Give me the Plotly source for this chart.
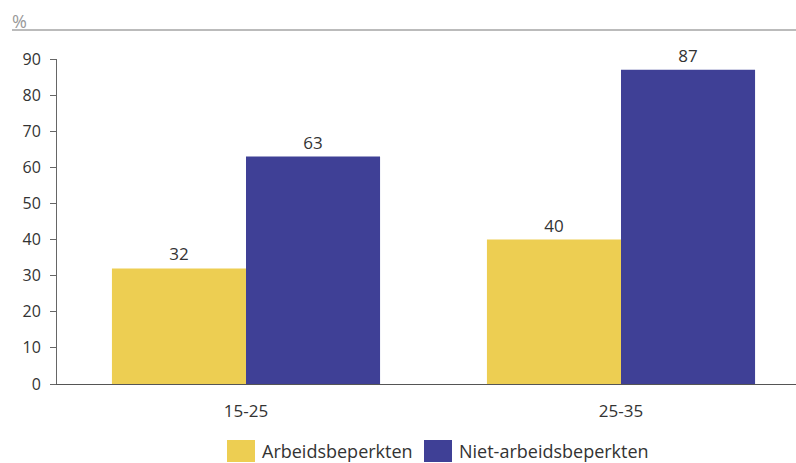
import plotly.graph_objects as go

categories = ["15-25", "25-35"]
arbeidsbeperkten = [32, 40]
niet_arbeidsbeperkten = [63, 87]
series_names = ["Arbeidsbeperkten", "Niet-arbeidsbeperkten"]
y_ticks = [0, 10, 20, 30, 40, 50, 60, 70, 80, 90]

yellow = "#EDCE52"
blue = "#3F4096"
font_family = "Open Sans"
text_color = "#333333"

W, H = 796, 463
left, right, top, bottom = 57, 796, 59, 384

fig = go.Figure()
for name, vals, col in [(series_names[0], arbeidsbeperkten, yellow),
                        (series_names[1], niet_arbeidsbeperkten, blue)]:
    fig.add_trace(go.Bar(
        x=categories, y=vals, name=name, marker=dict(color=col, line=dict(width=0)),
        text=[str(v) for v in vals], textposition="outside",
        textfont=dict(family=font_family, size=17, color=text_color),
        cliponaxis=False, showlegend=False,
    ))

fig.update_layout(
    width=W, height=H,
    margin=dict(l=left, r=W - right, t=top, b=H - bottom),
    paper_bgcolor="white", plot_bgcolor="white",
    barmode="group", bargap=0.285, bargroupgap=0,
    font=dict(family=font_family, color=text_color),
    xaxis=dict(
        range=[-189 / 375, 1 + 175 / 375], showline=True, linecolor="#555555", linewidth=1,
        ticks="", tickfont=dict(size=17, color=text_color), showgrid=False,
        zeroline=False, ticklabelstandoff=12,
    ),
    yaxis=dict(
        range=[0, 90], tickvals=y_ticks, showline=True, linecolor="#666666", linewidth=1,
        ticks="outside", ticklen=6, tickcolor="#666666", tickwidth=1,
        tickfont=dict(size=16, color=text_color), showgrid=False, zeroline=False,
        ticklabelstandoff=6,
    ),
)

# top rule and % label
fig.add_shape(type="line", xref="paper", yref="paper",
              x0=(12 - left) / (right - left), x1=1.0,
              y0=(bottom - 30) / (bottom - top), y1=(bottom - 30) / (bottom - top),
              line=dict(color="#BBBBBB", width=2))
fig.add_annotation(text="%", xref="paper", yref="paper",
                   x=(10 - left) / (right - left), y=(bottom - 21) / (bottom - top),
                   xanchor="left", yanchor="middle", showarrow=False,
                   font=dict(size=18, color="#999999", family=font_family))

# custom legend
def px_x(x):
    return (x - left) / (right - left)

def px_y(y):
    return (bottom - y) / (bottom - top)

legend_items = [(227, 255, 260, series_names[0], yellow),
                (424, 452, 457, series_names[1], blue)]
for x0, x1, tx, name, col in legend_items:
    fig.add_shape(type="rect", xref="paper", yref="paper",
                  x0=px_x(x0), x1=px_x(x1), y0=px_y(462), y1=px_y(440),
                  fillcolor=col, line=dict(width=0))
    fig.add_annotation(text=name, xref="paper", yref="paper",
                       x=px_x(tx), y=px_y(451), xanchor="left", yanchor="middle",
                       showarrow=False, font=dict(size=18, color=text_color, family=font_family))

fig.write_html("out.html")
